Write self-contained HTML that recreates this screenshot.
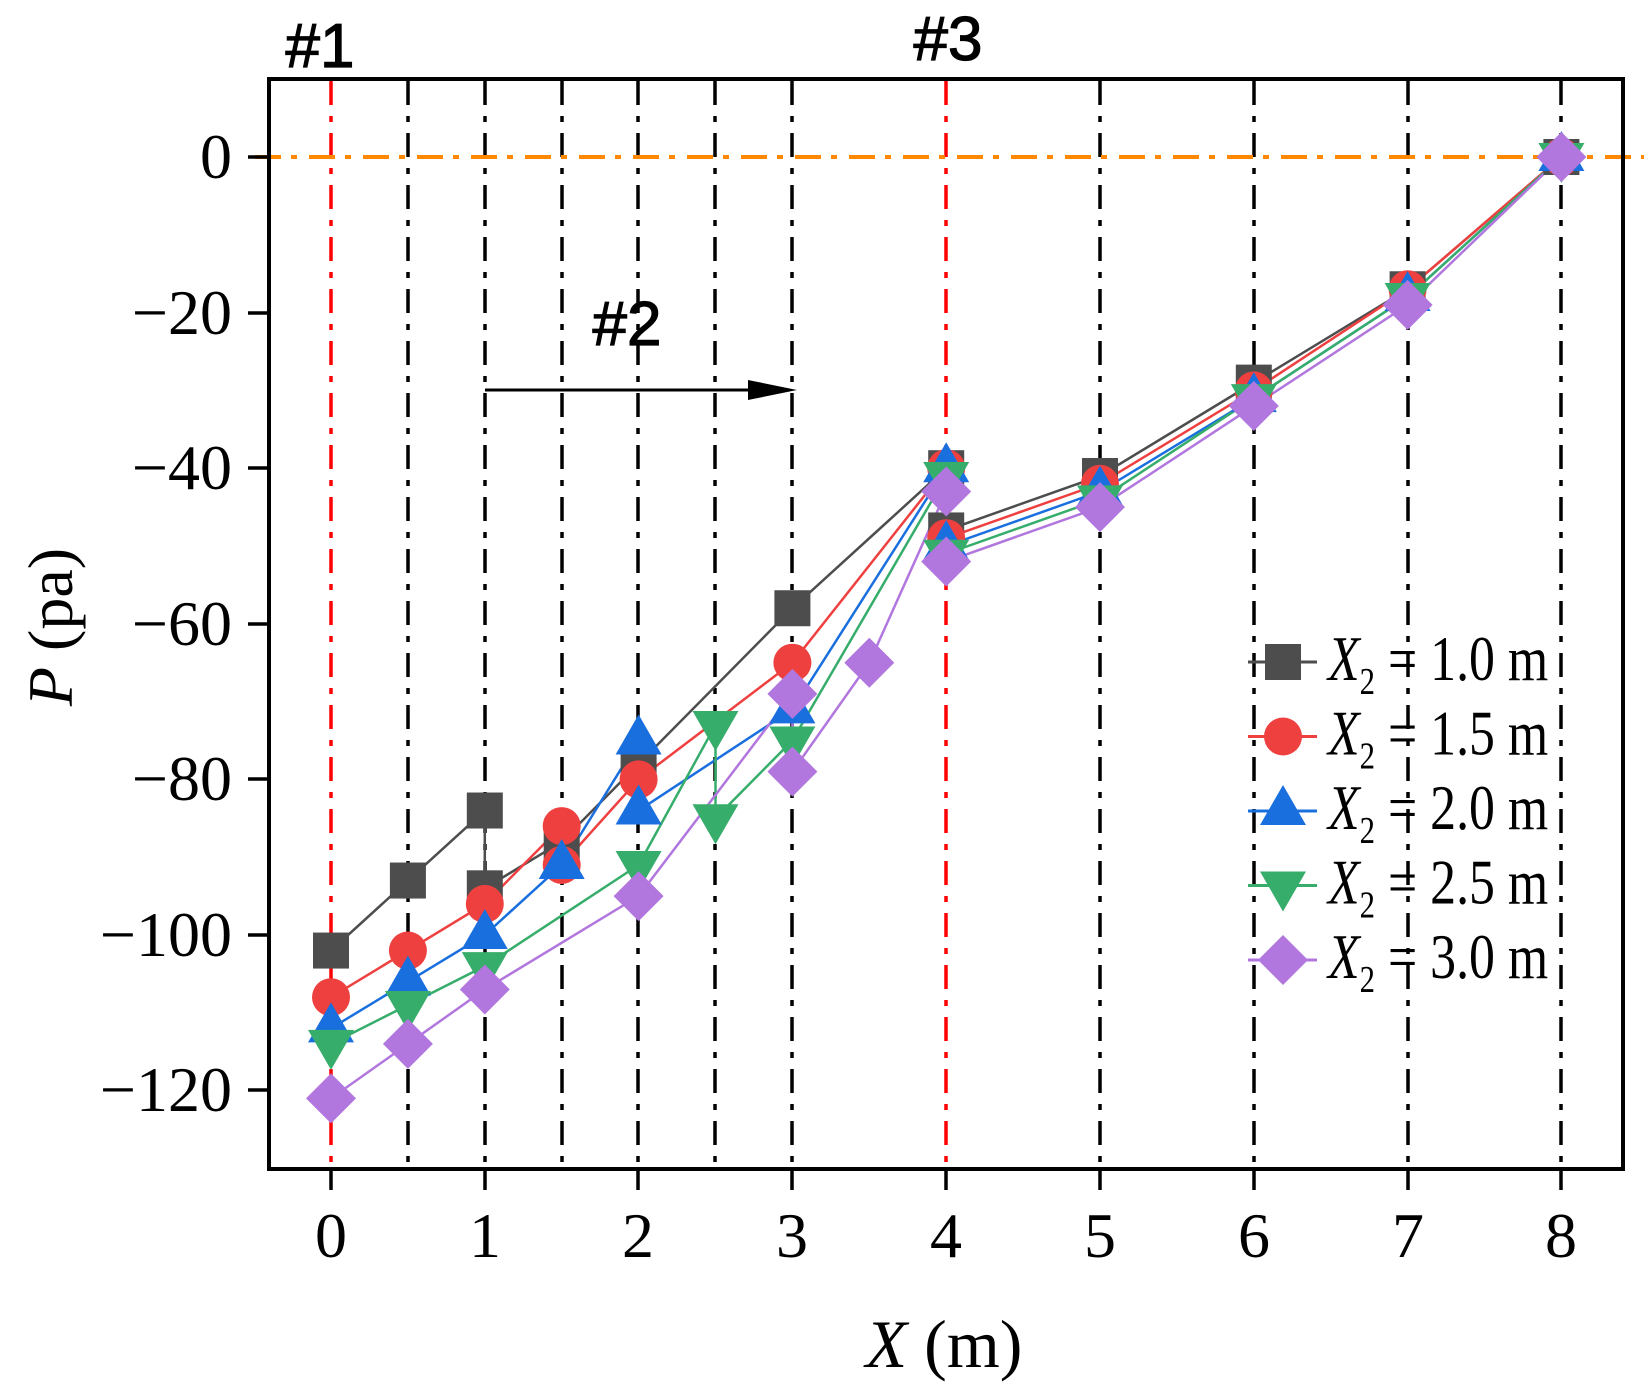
<!DOCTYPE html>
<html><head><meta charset="utf-8"><style>
html,body{margin:0;padding:0;background:#fff}
svg{display:block}
.t{font-family:"Liberation Serif","Times New Roman",serif;font-size:64px;fill:#000}
.h{font-family:"Liberation Sans",sans-serif;font-size:62px;fill:#000;stroke:#000;stroke-width:1.2}
</style></head><body>
<svg width="1644" height="1397" viewBox="0 0 1644 1397" xmlns="http://www.w3.org/2000/svg">
<defs>
<clipPath id="c"><rect x="269" y="79" width="1354" height="1090"/></clipPath>
</defs>
<g id="vlines" stroke-width="3.5" stroke-dasharray="24,11,6,11" fill="none">
<line x1="331" y1="81" x2="331" y2="1167" stroke="#ff0000"/>
<line x1="946" y1="81" x2="946" y2="1167" stroke="#ff0000"/>
<line x1="408" y1="81" x2="408" y2="1167" stroke="#000"/>
<line x1="485" y1="81" x2="485" y2="1167" stroke="#000"/>
<line x1="562" y1="81" x2="562" y2="1167" stroke="#000"/>
<line x1="638" y1="81" x2="638" y2="1167" stroke="#000"/>
<line x1="715" y1="81" x2="715" y2="1167" stroke="#000"/>
<line x1="792" y1="81" x2="792" y2="1167" stroke="#000"/>
<line x1="1100" y1="81" x2="1100" y2="1167" stroke="#000"/>
<line x1="1254" y1="81" x2="1254" y2="1167" stroke="#000"/>
<line x1="1408" y1="81" x2="1408" y2="1167" stroke="#000"/>
<line x1="1561" y1="81" x2="1561" y2="1167" stroke="#000"/>
</g>
<line x1="255" y1="157" x2="1644" y2="157" stroke="#ff8800" stroke-width="4" stroke-dasharray="26,10,6,12"/>
<line x1="485" y1="390" x2="760" y2="390" stroke="#000" stroke-width="3"/>
<polygon points="748,380 797,390 748,400" fill="#000"/>
<rect x="269" y="79" width="1354" height="1090" fill="none" stroke="#000" stroke-width="4"/>
<g stroke="#000" stroke-width="3.5">
<line x1="248" y1="157" x2="269" y2="157"/><line x1="248" y1="313" x2="269" y2="313"/>
<line x1="248" y1="468" x2="269" y2="468"/><line x1="248" y1="624" x2="269" y2="624"/>
<line x1="248" y1="779" x2="269" y2="779"/><line x1="248" y1="935" x2="269" y2="935"/>
<line x1="248" y1="1090" x2="269" y2="1090"/>
<line x1="331" y1="1169" x2="331" y2="1190"/><line x1="485" y1="1169" x2="485" y2="1190"/>
<line x1="638" y1="1169" x2="638" y2="1190"/><line x1="792" y1="1169" x2="792" y2="1190"/>
<line x1="946" y1="1169" x2="946" y2="1190"/><line x1="1100" y1="1169" x2="1100" y2="1190"/>
<line x1="1254" y1="1169" x2="1254" y2="1190"/><line x1="1408" y1="1169" x2="1408" y2="1190"/>
<line x1="1561" y1="1169" x2="1561" y2="1190"/>
</g>
<g class="t" text-anchor="end">
<text x="232" y="178">0</text><text x="232" y="334">−20</text><text x="232" y="489">−40</text>
<text x="232" y="645">−60</text><text x="232" y="800">−80</text><text x="232" y="956">−100</text>
<text x="232" y="1111">−120</text>
</g>
<g class="t" text-anchor="middle">
<text x="331" y="1257">0</text><text x="485" y="1257">1</text><text x="638" y="1257">2</text>
<text x="792" y="1257">3</text><text x="946" y="1257">4</text><text x="1100" y="1257">5</text>
<text x="1254" y="1257">6</text><text x="1408" y="1257">7</text><text x="1561" y="1257">8</text>
<text x="944" y="1367" font-size="68"><tspan font-style="italic">X</tspan> (m)</text>
</g>
<text class="t" font-size="68" transform="translate(72,627) rotate(-90)" text-anchor="middle"><tspan font-style="italic">P</tspan> (pa)</text>
<text class="h" x="320" y="67" text-anchor="middle">#1</text>
<text class="h" x="948" y="60" text-anchor="middle">#3</text>
<text class="h" x="627" y="345" text-anchor="middle">#2</text>

<g clip-path="url(#c)" id="series"></g>
<g id="legend"></g>
</svg>
<script>
(function(){
var X=function(v){return 331+v*153.8},Y=function(v){return 157-v*7.78};
var ns="http://www.w3.org/2000/svg";
var S=[
{c:"#4d4d4d",m:"s",d:[[0,-102],[0.5,-93],[1,-84],[1,-94],[1.5,-88],[2,-78],[3,-58],[4,-40],[4,-48],[5,-41],[6,-29],[7,-17],[8,0]]},
{c:"#ef4040",m:"o",d:[[0,-108],[0.5,-102],[1,-96],[1.5,-86],[1.5,-91],[2,-80],[3,-65],[4,-40],[4,-49],[5,-42],[6,-30],[7,-17],[8,0]]},
{c:"#1a6fdf",m:"^",d:[[0,-112],[0.5,-106],[1,-100],[1.5,-91],[2,-75],[2,-84],[3,-71],[4,-40],[4,-50],[5,-43],[6,-31],[7,-18],[8,0]]},
{c:"#37ad6b",m:"v",d:[[0,-114],[0.5,-109],[1,-104],[2,-91],[2.5,-73],[2.5,-85],[3,-75],[4,-41],[4,-51],[5,-44],[6,-31],[7,-18],[8,0]]},
{c:"#b177de",m:"d",d:[[0,-121],[0.5,-114],[1,-107],[2,-95],[3,-69],[3,-79],[3.5,-65],[4,-43],[4,-52],[5,-45],[6,-32],[7,-19],[8,0]]}
];
function mk(p,m,x,y,c){var e;
 if(m=="s"){e=document.createElementNS(ns,"rect");e.setAttribute("x",x-18);e.setAttribute("y",y-18);e.setAttribute("width",36);e.setAttribute("height",36);}
 else if(m=="o"){e=document.createElementNS(ns,"circle");e.setAttribute("cx",x);e.setAttribute("cy",y);e.setAttribute("r",19);}
 else{e=document.createElementNS(ns,"polygon");var pts;
  if(m=="^")pts=[[x,y-26],[x+23,y+14],[x-23,y+14]];
  else if(m=="v")pts=[[x,y+26],[x+23,y-14],[x-23,y-14]];
  else pts=[[x,y-25],[x+25,y],[x,y+25],[x-25,y]];
  e.setAttribute("points",pts.map(function(q){return q.join(",")}).join(" "));}
 e.setAttribute("fill",c);p.appendChild(e);}
var g=document.getElementById("series"),L=document.getElementById("legend");
S.forEach(function(s){var pl=document.createElementNS(ns,"polyline");
 pl.setAttribute("points",s.d.map(function(q){return X(q[0])+","+Y(q[1])}).join(" "));
 pl.setAttribute("fill","none");pl.setAttribute("stroke",s.c);pl.setAttribute("stroke-width","2.5");g.appendChild(pl);});
S.forEach(function(s){s.d.forEach(function(q){mk(g,s.m,X(q[0]),Y(q[1]),s.c);});});
var labs=["1.0","1.5","2.0","2.5","3.0"];
S.forEach(function(s,i){var y=662+i*74.5;
 var l=document.createElementNS(ns,"line");l.setAttribute("x1",1248);l.setAttribute("x2",1317);l.setAttribute("y1",y);l.setAttribute("y2",y);l.setAttribute("stroke",s.c);l.setAttribute("stroke-width","3");L.appendChild(l);
 mk(L,s.m,1283,y,s.c);
 var gg=document.createElementNS(ns,"g");gg.setAttribute("transform","translate(1328,"+(y+18)+") scale(0.81,1)");
 var t=document.createElementNS(ns,"text");t.setAttribute("class","t");t.setAttribute("x",0);t.setAttribute("y",0);t.setAttribute("font-size","52");
 t.innerHTML='<tspan font-style="italic">X</tspan><tspan font-size="38" dy="14">2</tspan><tspan dy="-14"> = '+labs[i]+' m</tspan>';
 gg.appendChild(t);L.appendChild(gg);});
})();
</script>
</body></html>
